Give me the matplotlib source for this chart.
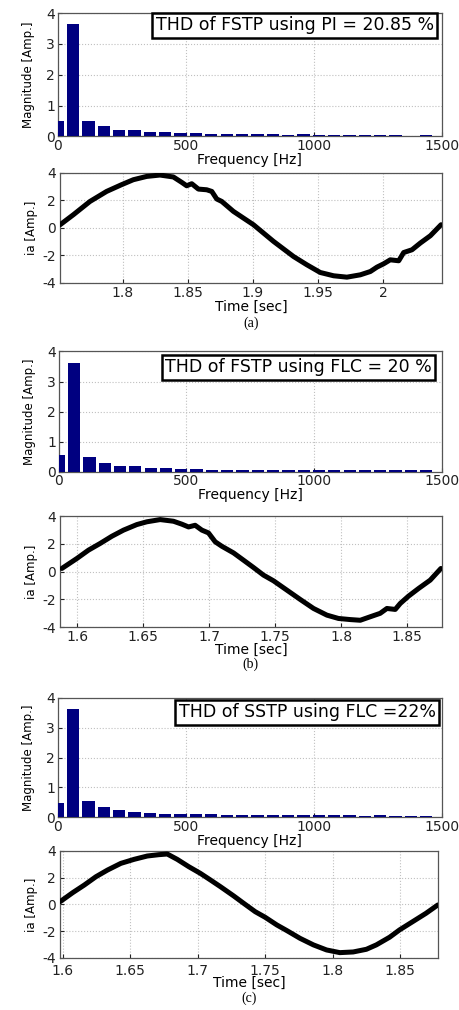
import matplotlib
matplotlib.use("Agg")
import matplotlib.pyplot as plt

plt.rcParams['font.family'] = ['DejaVu Sans']
plt.rcParams['axes.unicode_minus'] = False

# harmonic spectrum (bars every 60 Hz from DC)
freq = [60 * k for k in range(25)]
mag_a = [0.5, 3.65, 0.5, 0.33, 0.21, 0.21, 0.13, 0.13, 0.1, 0.1, 0.08, 0.08, 0.07,
         0.07, 0.07, 0.06, 0.07, 0.06, 0.03, 0.06, 0.03, 0.05, 0.06, 0.02, 0.05]
mag_b = [0.55, 3.62, 0.5, 0.3, 0.18, 0.18, 0.12, 0.12, 0.08, 0.08, 0.07, 0.07, 0.06,
         0.07, 0.06, 0.06, 0.05, 0.06, 0.05, 0.05, 0.04, 0.05, 0.04, 0.04, 0.05]
mag_c = [0.47, 3.63, 0.55, 0.33, 0.25, 0.17, 0.14, 0.12, 0.12, 0.11, 0.1, 0.08, 0.08,
         0.08, 0.08, 0.07, 0.07, 0.06, 0.07, 0.06, 0.05, 0.06, 0.05, 0.04, 0.04]

# phase current samples
t_a = [1.752, 1.7622, 1.7749, 1.7877, 1.7992, 1.8082, 1.8185, 1.8287, 1.839, 1.8454,
       1.8492, 1.8531, 1.8582, 1.8646, 1.8685, 1.8723, 1.8762, 1.8851, 1.9005, 1.9159,
       1.9313, 1.9415, 1.9518, 1.9621, 1.9723, 1.9826, 1.9903, 1.9954, 2.0005, 2.0056,
       2.0121, 2.0159, 2.0223, 2.0287, 2.0364, 2.0446]
i_a = [0.22, 0.95, 1.91, 2.64, 3.13, 3.49, 3.73, 3.83, 3.69, 3.3,
       3.05, 3.2, 2.81, 2.76, 2.64, 2.09, 1.91, 1.19, 0.22, -0.99,
       -2.09, -2.69, -3.25, -3.49, -3.59, -3.42, -3.18, -2.86, -2.62, -2.33,
       -2.4, -1.8, -1.6, -1.11, -0.58, 0.22]

t_b = [1.5883, 1.5997, 1.6085, 1.6173, 1.6262, 1.635, 1.6451, 1.6527, 1.6628, 1.6729,
       1.6792, 1.6843, 1.6893, 1.6944, 1.6994, 1.7045, 1.7095, 1.7184, 1.7259, 1.7335,
       1.7411, 1.7487, 1.7588, 1.7689, 1.779, 1.7891, 1.7979, 1.8068, 1.8144, 1.8219,
       1.8295, 1.8346, 1.8409, 1.8447, 1.851, 1.8586, 1.8674, 1.8755]
i_b = [0.23, 0.95, 1.55, 2.03, 2.55, 2.99, 3.39, 3.59, 3.75, 3.63,
       3.42, 3.22, 3.34, 2.99, 2.79, 2.15, 1.83, 1.35, 0.83, 0.3,
       -0.25, -0.66, -1.33, -2.0, -2.65, -3.13, -3.37, -3.45, -3.5, -3.25,
       -3.0, -2.65, -2.72, -2.29, -1.76, -1.21, -0.61, 0.23]

t_c = [1.598, 1.6073, 1.6159, 1.6245, 1.6331, 1.643, 1.6528, 1.6626, 1.6712, 1.6774,
       1.6848, 1.6934, 1.702, 1.7094, 1.7168, 1.7266, 1.734, 1.7426, 1.75, 1.7586,
       1.766, 1.7758, 1.7857, 1.7955, 1.8053, 1.8152, 1.825, 1.8324, 1.8422, 1.8496,
       1.8594, 1.8692, 1.8779]
i_c = [0.21, 0.88, 1.45, 2.07, 2.57, 3.07, 3.37, 3.62, 3.72, 3.77,
       3.37, 2.82, 2.32, 1.83, 1.33, 0.64, 0.09, -0.54, -0.96, -1.53,
       -1.95, -2.53, -3.02, -3.4, -3.6, -3.55, -3.35, -3.02, -2.45, -1.9,
       -1.28, -0.66, -0.04]

thd_text = ['THD of FSTP using PI = 20.85 %', 'THD of FSTP using FLC = 20 %',
            'THD of SSTP using FLC =22%']
captions = ['(a)', '(b)', '(c)']
t_ticks = [[1.8, 1.85, 1.9, 1.95, 2], [1.6, 1.65, 1.7, 1.75, 1.8, 1.85],
           [1.6, 1.65, 1.7, 1.75, 1.8, 1.85]]
t_lims = [(1.752, 2.045), (1.587, 1.876), (1.598, 1.878)]
mags = [mag_a, mag_b, mag_c]
waves = [(t_a, i_a), (t_b, i_b), (t_c, i_c)]

# axes boxes in figure fractions: (left, bottom, width, height)
bar_pos = [(0.126, 0.865, 0.836, 0.122), (0.128, 0.533, 0.834, 0.119),
           (0.126, 0.191, 0.836, 0.118)]
wave_pos = [(0.131, 0.720, 0.831, 0.109), (0.131, 0.379, 0.831, 0.110),
            (0.131, 0.0515, 0.823, 0.106)]
box_x = [0.98, 0.975, 0.985]
box_y = [0.90, 0.87, 0.88]
cap_y = [-0.37, -0.33, -0.375]
xpad = [2, 2, 4]
xlab_pad = [0, -1, -1]


def style(ax):
    ax.tick_params(direction='in', labelsize=10, length=3, pad=2, colors='#222222')
    ax.grid(True, linestyle=':', color='#c0c0c0', linewidth=0.8)
    for s in ax.spines.values():
        s.set_color('#555555')
        s.set_linewidth(0.9)


fig = plt.figure(figsize=(4.59, 10.10), dpi=100)

for k in range(3):
    ax = fig.add_axes(bar_pos[k])
    ax.bar(freq, mags[k], width=48, color='#000080', align='center', zorder=3)
    ax.set_xlim(0, 1500)
    ax.set_ylim(0, 4)
    ax.set_xticks([0, 500, 1000, 1500])
    ax.set_yticks([0, 1, 2, 3, 4])
    style(ax)
    ax.set_xlabel('Frequency [Hz]', fontsize=10, labelpad=0)
    ax.set_ylabel('Magnitude [Amp.]', fontsize=8.5, labelpad=8)
    ax.text(box_x[k], box_y[k], thd_text[k], transform=ax.transAxes, ha='right',
            va='center', fontsize=12.5, zorder=5,
            bbox=dict(boxstyle='square,pad=0.2', facecolor='white', edgecolor='black',
                      linewidth=1.8))

    ax2 = fig.add_axes(wave_pos[k])
    ax2.plot(waves[k][0], waves[k][1], color='black', linewidth=3.6,
             solid_joinstyle='round', solid_capstyle='round', zorder=3)
    ax2.set_xlim(*t_lims[k])
    ax2.set_ylim(-4, 4)
    ax2.set_yticks([-4, -2, 0, 2, 4])
    ax2.set_xticks(t_ticks[k])
    ax2.set_xticklabels([str(v) for v in t_ticks[k]])
    style(ax2)
    ax2.tick_params(axis='x', pad=xpad[k])
    ax2.tick_params(axis='y', pad=3)
    ax2.set_xlabel('Time [sec]', fontsize=10, labelpad=xlab_pad[k])
    ax2.set_ylabel('ia [Amp.]', fontsize=8.5, labelpad=3)
    ax2.text(0.5, cap_y[k], captions[k], transform=ax2.transAxes, ha='center',
             va='center', fontsize=10, family=['Liberation Serif'])

fig.savefig('out.png', dpi=100)
